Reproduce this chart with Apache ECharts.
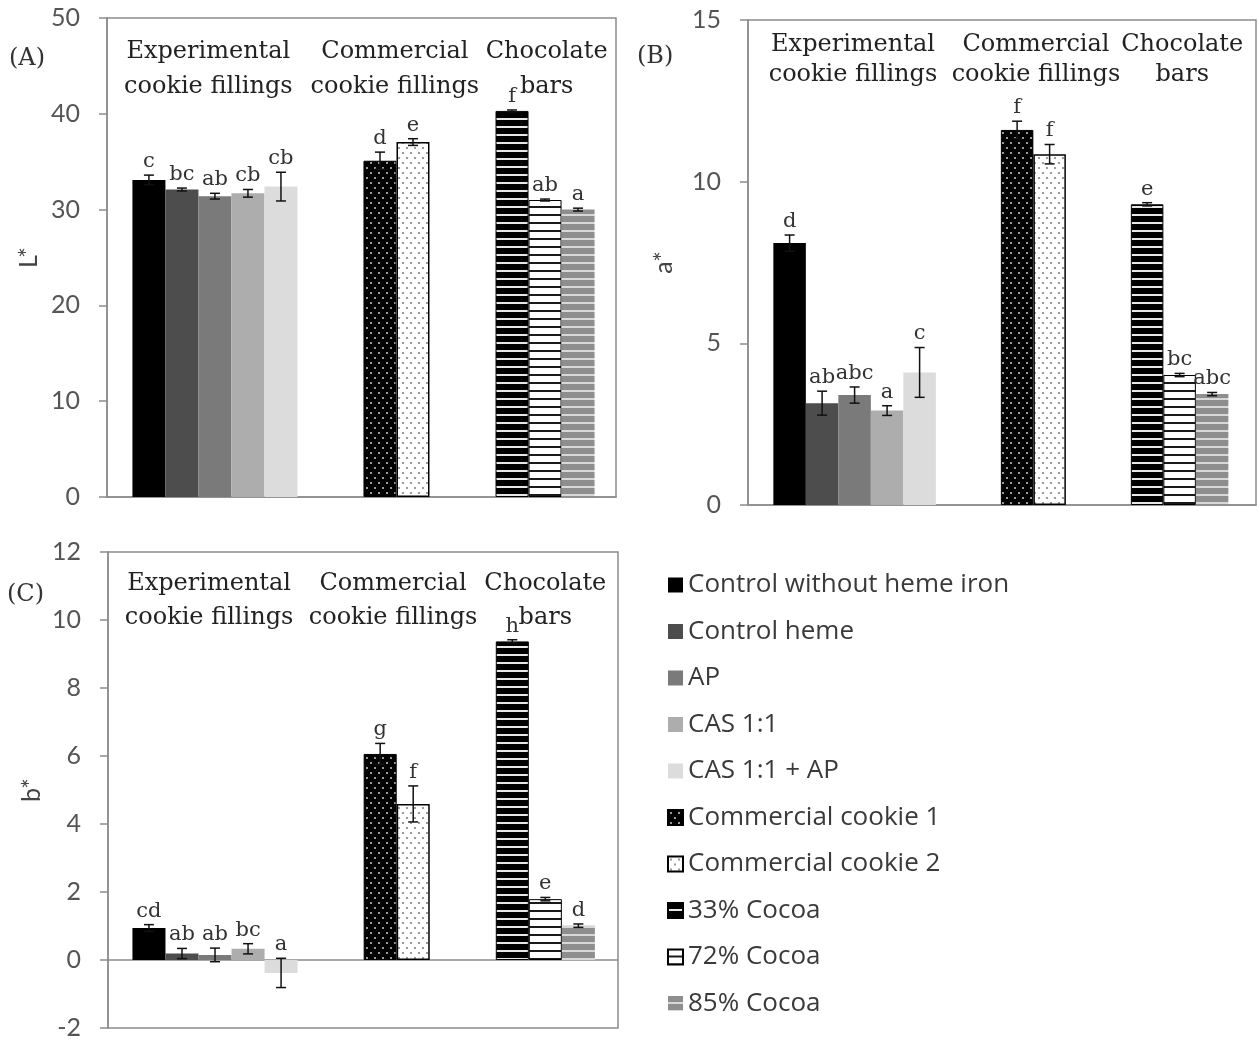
<!DOCTYPE html>
<html><head><meta charset="utf-8">
<script src="https://cdn.jsdelivr.net/npm/echarts@6/dist/echarts.min.js"></script>
<style>html,body{margin:0;padding:0;background:#fff}#c{width:1259px;height:1043px}</style>
</head><body><div id="c"></div>
<script>
// ---------- DATA ----------
const samples = ['Control without heme iron','Control heme','AP','CAS 1:1','CAS 1:1 + AP','Commercial cookie 1','Commercial cookie 2','33% Cocoa','72% Cocoa','85% Cocoa'];
const slots = [0,1,2,3,4,7,8,11,12,13];
const groupNames = ['Experimental\ncookie fillings','Commercial\ncookie fillings','Chocolate\nbars'];
const panelTags = ['(A)','(B)','(C)'];
const axisNames = ['L*','a*','b*'];

const L_vals    = [33.1,32.1,31.4,31.7,32.4,35.1,37.05,40.3,31.0,30.0];
const L_err     = [0.5,0.15,0.3,0.4,1.5,0.9,0.35,0.1,0.1,0.15];
const L_letters = ['c','bc','ab','cb','cb','d','e','f','ab','a'];

const a_vals    = [8.1,3.15,3.4,2.92,4.1,11.6,10.85,9.3,4.02,3.43];
const a_err     = [0.25,0.37,0.25,0.15,0.77,0.27,0.3,0.05,0.05,0.05];
const a_letters = ['d','ab','abc','a','c','f','f','e','bc','abc'];

const b_vals    = [0.94,0.19,0.15,0.33,-0.38,6.06,4.59,9.37,1.79,1.01];
const b_err     = [0.1,0.15,0.2,0.15,0.43,0.31,0.53,0.05,0.05,0.05];
const b_letters = ['cd','ab','ab','bc','a','g','f','h','e','d'];

const L_ticks = {min:0, max:50, interval:10};
const a_ticks = {min:0, max:15, interval:5};
const b_ticks = {min:-2, max:12, interval:2};

// ---------- STYLES ----------
function tile(w,h,bg,draw){
  const c=document.createElement('canvas'); c.width=w; c.height=h;
  const g=c.getContext('2d'); g.fillStyle=bg; g.fillRect(0,0,w,h); draw(g); return c;
}
function stripes(bg,line,lh){ return {image: tile(8,8,bg,g=>{g.fillStyle=line; g.fillRect(0,8-lh,8,lh);}), repeat:'repeat'}; }
function dots(bg,dot){ return {image: tile(8,10,bg,g=>{g.fillStyle=dot; g.fillRect(2,2,2,2); g.fillRect(6,7,2,2);}), repeat:'repeat'}; }

const itemStyles = [
  {color:'#000000'},
  {color:'#4d4d4d'},
  {color:'#7a7a7a'},
  {color:'#adadad'},
  {color:'#dcdcdc'},
  {color:dots('#000000','#9a9a9a'), borderColor:'#000', borderWidth:1},
  {color:dots('#ffffff','#9a9a9a'), borderColor:'#000', borderWidth:1.5},
  {color:stripes('#000000','#e8e8e8',2), borderColor:'#000', borderWidth:1},
  {color:stripes('#ffffff','#1a1a1a',2), borderColor:'#000', borderWidth:1},
  {color:stripes('#8e8e8e','#d8d8d8',2)}
];

// ---------- LAYOUT ----------
const grids = [
  {left:107, top:18, width:509, height:479},
  {left:748, top:20, width:508, height:485},
  {left:108, top:552, width:510, height:476}
];
const xRanges = [[-1.27,14.15],[-1.28,14.35],[-1.24,14.2]];
const headerPos = [
  {x:[1.8,7.45,12.05], y:44.7, lh:35},
  {x:[1.95,7.58,12.08], y:13.76, lh:30},
  {x:[1.82,7.39,12.0], y:10.57, lh:34}
];
const nameGaps = [66,72,64];
const panels = [
  {vals:L_vals, err:L_err, letters:L_letters, ticks:L_ticks},
  {vals:a_vals, err:a_err, letters:a_letters, ticks:a_ticks},
  {vals:b_vals, err:b_err, letters:b_letters, ticks:b_ticks}
];

const SERIF = 'DejaVu Serif';
const SANS = 'Lato';

const xAxes = [], yAxes = [], series = [];
panels.forEach((p,g)=>{
  xAxes.push({type:'value', gridIndex:g, min:xRanges[g][0], max:xRanges[g][1],
    axisLabel:{show:false}, axisTick:{show:false}, splitLine:{show:false},
    axisLine:{show:true, onZero:true, lineStyle:{color:'#8c8c8c', width:1.5}}});
  yAxes.push({type:'value', gridIndex:g, min:p.ticks.min, max:p.ticks.max, interval:p.ticks.interval,
    name:axisNames[g], nameLocation:'middle', nameGap:nameGaps[g], nameRotate:90,
    nameTextStyle:{fontFamily:SANS, fontSize:25, color:'#444'},
    axisLine:{show:true, onZero:false, lineStyle:{color:'#8c8c8c', width:1.5}},
    axisTick:{show:true, length:8, lineStyle:{color:'#8c8c8c', width:1.5}},
    axisLabel:{fontFamily:SANS, fontSize:25, color:'#555', margin:27},
    splitLine:{show:false}});
  const bw = grids[g].width/(xRanges[g][1]-xRanges[g][0]);
  samples.forEach((s,i)=>{
    series.push({type:'bar', name:s, xAxisIndex:g, yAxisIndex:g,
      data:[[slots[i], p.vals[i]]], barWidth:bw, barGap:'-100%',
      itemStyle:itemStyles[i], silent:true, animation:false});
  });
  // error bars and significance letters
  series.push({type:'custom', xAxisIndex:g, yAxisIndex:g, z:5, silent:true, animation:false,
    data: slots.map((x,i)=>[x, p.vals[i], p.err[i]]),
    renderItem:(params, api)=>{
      const i = params.dataIndex;
      const x = api.value(0), v = api.value(1), e = api.value(2);
      const t = api.coord([x, v+e]), b = api.coord([x, v-e]);
      const cap = 5;
      const st = {stroke:'#111', lineWidth:1.5};
      return {type:'group', children:[
        {type:'line', shape:{x1:t[0],y1:t[1],x2:b[0],y2:b[1]}, style:st},
        {type:'line', shape:{x1:t[0]-cap,y1:t[1],x2:t[0]+cap,y2:t[1]}, style:st},
        {type:'line', shape:{x1:b[0]-cap,y1:b[1],x2:b[0]+cap,y2:b[1]}, style:st},
        {type:'text', style:{text:p.letters[i], x:t[0], y:t[1]-3, align:'center', verticalAlign:'bottom',
          fontFamily:SERIF, fontSize:21, fill:'#333'}}
      ]};
    }});
  // group headers
  const hp = headerPos[g];
  series.push({type:'custom', xAxisIndex:g, yAxisIndex:g, z:6, silent:true, animation:false,
    data: hp.x.map(x=>[x, hp.y]),
    renderItem:(params, api)=>{
      const c = api.coord([api.value(0), api.value(1)]);
      return {type:'text', style:{text:groupNames[params.dataIndex], x:c[0], y:c[1], align:'center',
        verticalAlign:'middle', fontFamily:SERIF, fontSize:24, lineHeight:hp.lh, fill:'#222'}};
    }});
});

const chart = echarts.init(document.getElementById('c'));
chart.setOption({
  backgroundColor:'#fff',
  animation:false,
  grid: grids.map(gr=>Object.assign({show:true, borderColor:'#8c8c8c', borderWidth:1.5, containLabel:false}, gr)),
  xAxis: xAxes,
  yAxis: yAxes,
  legend:{orient:'vertical', left:662, top:565, itemWidth:15, itemHeight:15, itemGap:16.5, icon:'rect',
    data:samples, selectedMode:false,
    textStyle:{fontFamily:'Open Sans', fontSize:26, color:'#3a3a3a', lineHeight:30}},
  graphic:[
    {type:'text', left:9, top:47, style:{text:panelTags[0], fontFamily:SERIF, fontSize:24, fill:'#333'}},
    {type:'text', left:637, top:45, style:{text:panelTags[1], fontFamily:SERIF, fontSize:24, fill:'#333'}},
    {type:'text', left:7, top:583, style:{text:panelTags[2], fontFamily:SERIF, fontSize:24, fill:'#333'}}
  ],
  series: series
});
</script></body></html>
